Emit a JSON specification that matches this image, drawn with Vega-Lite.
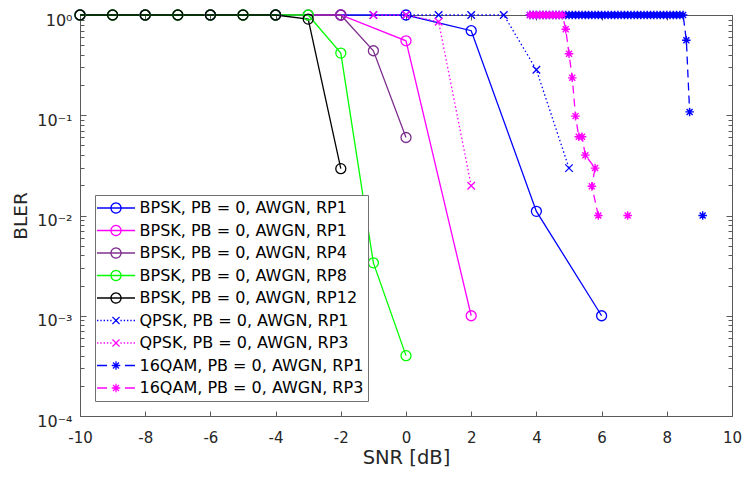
{
  "$schema": "https://vega.github.io/schema/vega-lite/v6.json",
  "width": 652,
  "height": 401,
  "autosize": {"type": "none"},
  "padding": {"left": 80, "top": 15, "right": 10, "bottom": 61},
  "background": "white",
  "config": {
    "view": {"stroke": null},
    "font": "DejaVu Sans",
    "axis": {
      "grid": false,
      "domainColor": "#5a5a5a",
      "tickColor": "#5a5a5a",
      "labelColor": "#262626",
      "titleColor": "#262626",
      "labelFont": "DejaVu Sans",
      "titleFont": "DejaVu Sans",
      "labelFontSize": 15,
      "titleFontSize": 19.5,
      "titleFontWeight": "normal",
      "labelOverlap": false,
      "labelFlush": false
    }
  },
  "data": {
    "values": [
      {"s": "1 BPSK, PB = 0, AWGN, RP1", "x": -10, "y": 1},
      {"s": "1 BPSK, PB = 0, AWGN, RP1", "x": -8, "y": 1},
      {"s": "1 BPSK, PB = 0, AWGN, RP1", "x": -6, "y": 1},
      {"s": "1 BPSK, PB = 0, AWGN, RP1", "x": -4, "y": 1},
      {"s": "1 BPSK, PB = 0, AWGN, RP1", "x": -2, "y": 1},
      {"s": "1 BPSK, PB = 0, AWGN, RP1", "x": 0, "y": 1},
      {"s": "1 BPSK, PB = 0, AWGN, RP1", "x": 2, "y": 0.697},
      {"s": "1 BPSK, PB = 0, AWGN, RP1", "x": 4, "y": 0.011},
      {"s": "1 BPSK, PB = 0, AWGN, RP1", "x": 6, "y": 0.001},

      {"s": "2 BPSK, PB = 0, AWGN, RP1", "x": -10, "y": 1},
      {"s": "2 BPSK, PB = 0, AWGN, RP1", "x": -8, "y": 1},
      {"s": "2 BPSK, PB = 0, AWGN, RP1", "x": -6, "y": 1},
      {"s": "2 BPSK, PB = 0, AWGN, RP1", "x": -4, "y": 1},
      {"s": "2 BPSK, PB = 0, AWGN, RP1", "x": -2, "y": 1},
      {"s": "2 BPSK, PB = 0, AWGN, RP1", "x": 0, "y": 0.553},
      {"s": "2 BPSK, PB = 0, AWGN, RP1", "x": 2, "y": 0.001},

      {"s": "3 BPSK, PB = 0, AWGN, RP4", "x": -10, "y": 1},
      {"s": "3 BPSK, PB = 0, AWGN, RP4", "x": -9, "y": 1},
      {"s": "3 BPSK, PB = 0, AWGN, RP4", "x": -8, "y": 1},
      {"s": "3 BPSK, PB = 0, AWGN, RP4", "x": -7, "y": 1},
      {"s": "3 BPSK, PB = 0, AWGN, RP4", "x": -6, "y": 1},
      {"s": "3 BPSK, PB = 0, AWGN, RP4", "x": -5, "y": 1},
      {"s": "3 BPSK, PB = 0, AWGN, RP4", "x": -4, "y": 1},
      {"s": "3 BPSK, PB = 0, AWGN, RP4", "x": -3, "y": 1},
      {"s": "3 BPSK, PB = 0, AWGN, RP4", "x": -2, "y": 1},
      {"s": "3 BPSK, PB = 0, AWGN, RP4", "x": -1, "y": 0.44},
      {"s": "3 BPSK, PB = 0, AWGN, RP4", "x": 0, "y": 0.06},

      {"s": "4 BPSK, PB = 0, AWGN, RP8", "x": -10, "y": 1},
      {"s": "4 BPSK, PB = 0, AWGN, RP8", "x": -9, "y": 1},
      {"s": "4 BPSK, PB = 0, AWGN, RP8", "x": -8, "y": 1},
      {"s": "4 BPSK, PB = 0, AWGN, RP8", "x": -7, "y": 1},
      {"s": "4 BPSK, PB = 0, AWGN, RP8", "x": -6, "y": 1},
      {"s": "4 BPSK, PB = 0, AWGN, RP8", "x": -5, "y": 1},
      {"s": "4 BPSK, PB = 0, AWGN, RP8", "x": -4, "y": 1},
      {"s": "4 BPSK, PB = 0, AWGN, RP8", "x": -3, "y": 1},
      {"s": "4 BPSK, PB = 0, AWGN, RP8", "x": -2, "y": 0.417},
      {"s": "4 BPSK, PB = 0, AWGN, RP8", "x": -1, "y": 0.00337},
      {"s": "4 BPSK, PB = 0, AWGN, RP8", "x": 0, "y": 0.0004},

      {"s": "5 BPSK, PB = 0, AWGN, RP12", "x": -10, "y": 1},
      {"s": "5 BPSK, PB = 0, AWGN, RP12", "x": -9, "y": 1},
      {"s": "5 BPSK, PB = 0, AWGN, RP12", "x": -8, "y": 1},
      {"s": "5 BPSK, PB = 0, AWGN, RP12", "x": -7, "y": 1},
      {"s": "5 BPSK, PB = 0, AWGN, RP12", "x": -6, "y": 1},
      {"s": "5 BPSK, PB = 0, AWGN, RP12", "x": -5, "y": 1},
      {"s": "5 BPSK, PB = 0, AWGN, RP12", "x": -4, "y": 1},
      {"s": "5 BPSK, PB = 0, AWGN, RP12", "x": -3, "y": 0.91},
      {"s": "5 BPSK, PB = 0, AWGN, RP12", "x": -2, "y": 0.0293},

      {"s": "6 QPSK, PB = 0, AWGN, RP1", "x": -1, "y": 1},
      {"s": "6 QPSK, PB = 0, AWGN, RP1", "x": 0, "y": 1},
      {"s": "6 QPSK, PB = 0, AWGN, RP1", "x": 1, "y": 1},
      {"s": "6 QPSK, PB = 0, AWGN, RP1", "x": 2, "y": 1},
      {"s": "6 QPSK, PB = 0, AWGN, RP1", "x": 3, "y": 1},
      {"s": "6 QPSK, PB = 0, AWGN, RP1", "x": 4, "y": 0.284},
      {"s": "6 QPSK, PB = 0, AWGN, RP1", "x": 5, "y": 0.0297},

      {"s": "7 QPSK, PB = 0, AWGN, RP3", "x": -1, "y": 1},
      {"s": "7 QPSK, PB = 0, AWGN, RP3", "x": 0, "y": 1},
      {"s": "7 QPSK, PB = 0, AWGN, RP3", "x": 1, "y": 0.857},
      {"s": "7 QPSK, PB = 0, AWGN, RP3", "x": 2, "y": 0.0198},

      {"s": "8 16QAM, PB = 0, AWGN, RP1", "x": 3.8, "y": 1},
      {"s": "8 16QAM, PB = 0, AWGN, RP1", "x": 3.9, "y": 1},
      {"s": "8 16QAM, PB = 0, AWGN, RP1", "x": 4.0, "y": 1},
      {"s": "8 16QAM, PB = 0, AWGN, RP1", "x": 4.1, "y": 1},
      {"s": "8 16QAM, PB = 0, AWGN, RP1", "x": 4.2, "y": 1},
      {"s": "8 16QAM, PB = 0, AWGN, RP1", "x": 4.3, "y": 1},
      {"s": "8 16QAM, PB = 0, AWGN, RP1", "x": 4.4, "y": 1},
      {"s": "8 16QAM, PB = 0, AWGN, RP1", "x": 4.5, "y": 1},
      {"s": "8 16QAM, PB = 0, AWGN, RP1", "x": 4.6, "y": 1},
      {"s": "8 16QAM, PB = 0, AWGN, RP1", "x": 4.7, "y": 1},
      {"s": "8 16QAM, PB = 0, AWGN, RP1", "x": 4.8, "y": 1},
      {"s": "8 16QAM, PB = 0, AWGN, RP1", "x": 4.9, "y": 1},
      {"s": "8 16QAM, PB = 0, AWGN, RP1", "x": 5.0, "y": 1},
      {"s": "8 16QAM, PB = 0, AWGN, RP1", "x": 5.1, "y": 1},
      {"s": "8 16QAM, PB = 0, AWGN, RP1", "x": 5.2, "y": 1},
      {"s": "8 16QAM, PB = 0, AWGN, RP1", "x": 5.3, "y": 1},
      {"s": "8 16QAM, PB = 0, AWGN, RP1", "x": 5.4, "y": 1},
      {"s": "8 16QAM, PB = 0, AWGN, RP1", "x": 5.5, "y": 1},
      {"s": "8 16QAM, PB = 0, AWGN, RP1", "x": 5.6, "y": 1},
      {"s": "8 16QAM, PB = 0, AWGN, RP1", "x": 5.7, "y": 1},
      {"s": "8 16QAM, PB = 0, AWGN, RP1", "x": 5.8, "y": 1},
      {"s": "8 16QAM, PB = 0, AWGN, RP1", "x": 5.9, "y": 1},
      {"s": "8 16QAM, PB = 0, AWGN, RP1", "x": 6.0, "y": 1},
      {"s": "8 16QAM, PB = 0, AWGN, RP1", "x": 6.1, "y": 1},
      {"s": "8 16QAM, PB = 0, AWGN, RP1", "x": 6.2, "y": 1},
      {"s": "8 16QAM, PB = 0, AWGN, RP1", "x": 6.3, "y": 1},
      {"s": "8 16QAM, PB = 0, AWGN, RP1", "x": 6.4, "y": 1},
      {"s": "8 16QAM, PB = 0, AWGN, RP1", "x": 6.5, "y": 1},
      {"s": "8 16QAM, PB = 0, AWGN, RP1", "x": 6.6, "y": 1},
      {"s": "8 16QAM, PB = 0, AWGN, RP1", "x": 6.7, "y": 1},
      {"s": "8 16QAM, PB = 0, AWGN, RP1", "x": 6.8, "y": 1},
      {"s": "8 16QAM, PB = 0, AWGN, RP1", "x": 6.9, "y": 1},
      {"s": "8 16QAM, PB = 0, AWGN, RP1", "x": 7.0, "y": 1},
      {"s": "8 16QAM, PB = 0, AWGN, RP1", "x": 7.1, "y": 1},
      {"s": "8 16QAM, PB = 0, AWGN, RP1", "x": 7.2, "y": 1},
      {"s": "8 16QAM, PB = 0, AWGN, RP1", "x": 7.3, "y": 1},
      {"s": "8 16QAM, PB = 0, AWGN, RP1", "x": 7.4, "y": 1},
      {"s": "8 16QAM, PB = 0, AWGN, RP1", "x": 7.5, "y": 1},
      {"s": "8 16QAM, PB = 0, AWGN, RP1", "x": 7.6, "y": 1},
      {"s": "8 16QAM, PB = 0, AWGN, RP1", "x": 7.7, "y": 1},
      {"s": "8 16QAM, PB = 0, AWGN, RP1", "x": 7.8, "y": 1},
      {"s": "8 16QAM, PB = 0, AWGN, RP1", "x": 7.9, "y": 1},
      {"s": "8 16QAM, PB = 0, AWGN, RP1", "x": 8.0, "y": 1},
      {"s": "8 16QAM, PB = 0, AWGN, RP1", "x": 8.1, "y": 1},
      {"s": "8 16QAM, PB = 0, AWGN, RP1", "x": 8.2, "y": 1},
      {"s": "8 16QAM, PB = 0, AWGN, RP1", "x": 8.3, "y": 1},
      {"s": "8 16QAM, PB = 0, AWGN, RP1", "x": 8.4, "y": 1},
      {"s": "8 16QAM, PB = 0, AWGN, RP1", "x": 8.5, "y": 1},
      {"s": "8 16QAM, PB = 0, AWGN, RP1", "x": 8.6, "y": 0.56},
      {"s": "8 16QAM, PB = 0, AWGN, RP1", "x": 8.7, "y": 0.108},
      {"s": "8 16QAM, PB = 0, AWGN, RP1", "x": 8.8, "y": null},
      {"s": "8 16QAM, PB = 0, AWGN, RP1", "x": 9.1, "y": 0.01},

      {"s": "9 16QAM, PB = 0, AWGN, RP3", "x": 3.8, "y": 1},
      {"s": "9 16QAM, PB = 0, AWGN, RP3", "x": 3.9, "y": 1},
      {"s": "9 16QAM, PB = 0, AWGN, RP3", "x": 4.0, "y": 1},
      {"s": "9 16QAM, PB = 0, AWGN, RP3", "x": 4.1, "y": 1},
      {"s": "9 16QAM, PB = 0, AWGN, RP3", "x": 4.2, "y": 1},
      {"s": "9 16QAM, PB = 0, AWGN, RP3", "x": 4.3, "y": 1},
      {"s": "9 16QAM, PB = 0, AWGN, RP3", "x": 4.4, "y": 1},
      {"s": "9 16QAM, PB = 0, AWGN, RP3", "x": 4.5, "y": 1},
      {"s": "9 16QAM, PB = 0, AWGN, RP3", "x": 4.6, "y": 1},
      {"s": "9 16QAM, PB = 0, AWGN, RP3", "x": 4.7, "y": 1},
      {"s": "9 16QAM, PB = 0, AWGN, RP3", "x": 4.8, "y": 1},
      {"s": "9 16QAM, PB = 0, AWGN, RP3", "x": 4.9, "y": 0.72},
      {"s": "9 16QAM, PB = 0, AWGN, RP3", "x": 5.0, "y": 0.41},
      {"s": "9 16QAM, PB = 0, AWGN, RP3", "x": 5.1, "y": 0.236},
      {"s": "9 16QAM, PB = 0, AWGN, RP3", "x": 5.2, "y": 0.098},
      {"s": "9 16QAM, PB = 0, AWGN, RP3", "x": 5.3, "y": 0.061},
      {"s": "9 16QAM, PB = 0, AWGN, RP3", "x": 5.4, "y": 0.061},
      {"s": "9 16QAM, PB = 0, AWGN, RP3", "x": 5.5, "y": 0.04},
      {"s": "9 16QAM, PB = 0, AWGN, RP3", "x": 5.8, "y": 0.0297},
      {"s": "9 16QAM, PB = 0, AWGN, RP3", "x": 5.7, "y": 0.0196},
      {"s": "9 16QAM, PB = 0, AWGN, RP3", "x": 5.9, "y": 0.01},
      {"s": "9 16QAM, PB = 0, AWGN, RP3", "x": 6.0, "y": null},
      {"s": "9 16QAM, PB = 0, AWGN, RP3", "x": 6.8, "y": 0.01}
    ]
  },
  "encoding": {
    "x": {
      "field": "x", "type": "quantitative",
      "scale": {"domain": [-10, 10], "nice": false, "zero": false},
      "axis": null
    },
    "y": {
      "field": "y", "type": "quantitative",
      "scale": {"type": "log", "domain": [0.0001, 1], "nice": false},
      "axis": null
    },
    "color": {
      "field": "s", "type": "nominal",
      "scale": {
        "domain": ["1 BPSK, PB = 0, AWGN, RP1", "2 BPSK, PB = 0, AWGN, RP1", "3 BPSK, PB = 0, AWGN, RP4", "4 BPSK, PB = 0, AWGN, RP8", "5 BPSK, PB = 0, AWGN, RP12", "6 QPSK, PB = 0, AWGN, RP1", "7 QPSK, PB = 0, AWGN, RP3", "8 16QAM, PB = 0, AWGN, RP1", "9 16QAM, PB = 0, AWGN, RP3"],
        "range": ["#0000ff", "#ff00ff", "#7e2f8e", "#00ff00", "#000000", "#0000ff", "#ff00ff", "#0000ff", "#ff00ff"]
      },
      "legend": {
        "orient": "none",
        "legendX": 15,
        "legendY": 180,
        "title": null,
        "direction": "vertical",
        "symbolSize": 225,
        "symbolStrokeWidth": 1.3,
        "symbolOffset": 8,
        "labelOffset": 15,
        "labelFont": "DejaVu Sans",
        "labelFontSize": 16,
        "labelColor": "#000000",
        "labelLimit": 400,
        "rowPadding": 5.5,
        "padding": 4.5,
        "strokeColor": "#707070",
        "fillColor": "white",
        "labelExpr": "slice(datum.label, 2) + '\u00a0\u00a0\u00a0\u00a0\u00a0\u00a0'",
        "encode": {
          "symbols": {
            "update": {
              "shape": {"signal": "indexof(datum.value,'BPSK') >= 0 ? 'M-2.53,0H2.53M0.67,0A0.67,0.67,0,1,1,-0.67,0A0.67,0.67,0,1,1,0.67,0' : indexof(datum.value,'QPSK') >= 0 ? 'M-2.53,0h0.18M-2.09,0h0.18M-1.65,0h0.18M-1.21,0h0.18M-0.77,0h0.18M0.59,0h0.18M1.03,0h0.18M1.47,0h0.18M1.91,0h0.18M2.35,0h0.18M-0.47,-0.47L0.47,0.47M-0.47,0.47L0.47,-0.47' : 'M-2.53,0H-1.2M1.2,0H2.53M-0.57,0H0.57M0,-0.57V0.57M-0.4,-0.4L0.4,0.4M-0.4,0.4L0.4,-0.4'"},
              "fill": {"value": "transparent"},
              "strokeDash": {"value": [1, 0]},
              "strokeWidth": {"value": 1.3},
              "size": {"value": 225}
            }
          }
        }
      }
    }
  },
  "layer": [
    {
      "transform": [{"filter": "indexof(datum.s, 'BPSK') >= 0"}],
      "mark": {"type": "line", "strokeWidth": 1.3, "invalid": "break-paths-show-domains"},
      "encoding": {
        "x": {
          "field": "x", "type": "quantitative",
          "scale": {"domain": [-10, 10], "nice": false, "zero": false},
          "axis": {
            "orient": "bottom",
            "values": [-10, -8, -6, -4, -2, 0, 2, 4, 6, 8, 10],
            "labelExpr": "'' + datum.value",
            "tickSize": -5,
            "labelPadding": 19,
            "title": "SNR [dB]",
            "titlePadding": 3
          }
        },
        "y": {
          "field": "y", "type": "quantitative",
          "scale": {"type": "log", "domain": [0.0001, 1], "nice": false},
          "axis": {
            "orient": "left",
            "values": [0.0001, 0.0002, 0.0003, 0.0004, 0.0005, 0.0006, 0.0007, 0.0008, 0.0009, 0.001, 0.002, 0.003, 0.004, 0.005, 0.006, 0.007, 0.008, 0.009, 0.01, 0.02, 0.03, 0.04, 0.05, 0.06, 0.07, 0.08, 0.09, 0.1, 0.2, 0.3, 0.4, 0.5, 0.6, 0.7, 0.8, 0.9, 1],
            "labelExpr": "abs(log(datum.value)/LN10 - round(log(datum.value)/LN10)) < 0.000001 ? '10' + ['\u2070','\u207b\u00b9','\u207b\u00b2','\u207b\u00b3','\u207b\u2074'][-round(log(datum.value)/LN10)] : ''",
            "labelFontSize": 16,
            "tickSize": {"condition": {"test": "abs(log(datum.value)/LN10 - round(log(datum.value)/LN10)) < 0.000001", "value": -6}, "value": -4},
            "labelPadding": 14,
            "labelOffset": 5,
            "title": "BLER",
            "titleFontSize": 18.5,
            "titlePadding": 6
          }
        },
        "order": {"value": null}
      }
    },
    {
      "transform": [{"filter": "indexof(datum.s, 'QPSK') >= 0"}],
      "mark": {"type": "line", "strokeWidth": 1.3, "strokeDash": [1.5, 2.5], "invalid": "break-paths-show-domains"},
      "encoding": {"order": {"value": null}}
    },
    {
      "transform": [{"filter": "indexof(datum.s, '16QAM') >= 0"}],
      "mark": {"type": "line", "strokeWidth": 1.3, "strokeDash": [8, 5], "invalid": "break-paths-show-domains"},
      "encoding": {"order": {"value": null}}
    },
    {
      "transform": [{"filter": "indexof(datum.s, 'BPSK') >= 0"}],
      "mark": {"type": "point", "shape": "circle", "filled": false, "size": 100, "strokeWidth": 1.3, "opacity": 1},
      "encoding": {
        "x": {
          "field": "x", "type": "quantitative",
          "scale": {"domain": [-10, 10], "nice": false, "zero": false},
          "axis": {
            "orient": "top",
            "values": [-10, -8, -6, -4, -2, 0, 2, 4, 6, 8, 10],
            "labels": false,
            "tickSize": -5,
            "title": null
          }
        },
        "y": {
          "field": "y", "type": "quantitative",
          "scale": {"type": "log", "domain": [0.0001, 1], "nice": false},
          "axis": {
            "orient": "right",
            "values": [0.0001, 0.0002, 0.0003, 0.0004, 0.0005, 0.0006, 0.0007, 0.0008, 0.0009, 0.001, 0.002, 0.003, 0.004, 0.005, 0.006, 0.007, 0.008, 0.009, 0.01, 0.02, 0.03, 0.04, 0.05, 0.06, 0.07, 0.08, 0.09, 0.1, 0.2, 0.3, 0.4, 0.5, 0.6, 0.7, 0.8, 0.9, 1],
            "labels": false,
            "tickSize": {"condition": {"test": "abs(log(datum.value)/LN10 - round(log(datum.value)/LN10)) < 0.000001", "value": -6}, "value": -4},
            "title": null
          }
        }
      }
    },
    {
      "transform": [{"filter": "indexof(datum.s, 'QPSK') >= 0"}],
      "mark": {"type": "point", "shape": "M-0.75,-0.75L0.75,0.75M-0.75,0.75L0.75,-0.75", "filled": false, "size": 100, "strokeWidth": 1.3, "opacity": 1}
    },
    {
      "transform": [{"filter": "indexof(datum.s, '16QAM') >= 0"}],
      "mark": {"type": "point", "shape": "M-0.85,0H0.85M0,-0.85V0.85M-0.6,-0.6L0.6,0.6M-0.6,0.6L0.6,-0.6", "filled": false, "size": 100, "strokeWidth": 1.4, "opacity": 1}
    }
  ],
  "resolve": {"axis": {"x": "independent", "y": "independent"}}
}
